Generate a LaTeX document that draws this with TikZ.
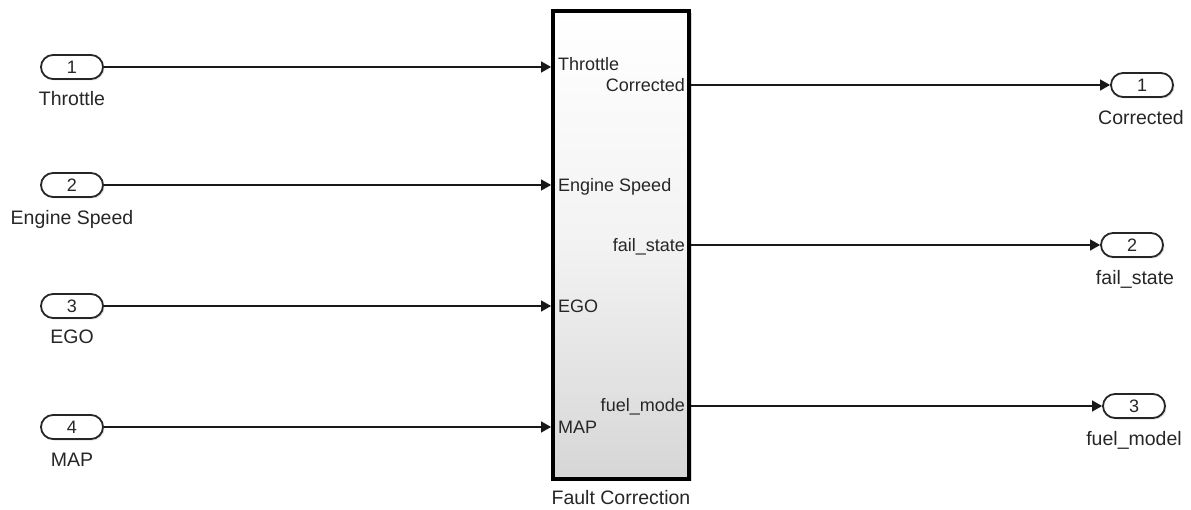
\documentclass[tikz,border=0pt]{standalone}
\usepackage{fontspec}
\setmainfont{Liberation Sans}
\usetikzlibrary{arrows.meta,shadows}
\begin{document}
\begin{tikzpicture}[x=1pt,y=-1pt,
  port/.style={draw=black!85, line width=1.8pt, rounded corners=12pt,
    minimum width=62pt, minimum height=24pt, inner sep=0pt, fill=white,
    font=\fontsize{18}{20}\selectfont, text=black!85,
    drop shadow={shadow xshift=1.5pt,shadow yshift=-1.5pt,opacity=0.25}},
  blk/.style={draw=black, line width=3.8pt, minimum width=136pt, minimum height=468pt,
    inner sep=0pt, top color=white, bottom color=black!16, middle color=black!5,
    drop shadow={shadow xshift=3pt,shadow yshift=-2pt,opacity=0.3}},
  lbl/.style={font=\fontsize{19.5}{22}\selectfont, text=black!85, inner sep=0pt},
  plbl/.style={font=\fontsize{18}{20}\selectfont, text=black!85, inner sep=0pt},
  conn/.style={line width=1.3pt, draw=black!90, -{Triangle[length=10pt,width=11pt]}}
]
\useasboundingbox (0,0) rectangle (1191,510);

% main block
\node[blk] (fc) at (621,245) {};
\node[lbl, anchor=base] (fcname) at (621,504) {Fault Correction};

% input ports
\node[port] (in1) at (72,67) {1};
\node[port] (in2) at (72,185) {2};
\node[port] (in3) at (72,306) {3};
\node[port] (in4) at (72,427) {4};
\node[lbl, anchor=base] (in1l) at (72,106) {Throttle};
\node[lbl, anchor=base] (in2l) at (72,225) {Engine Speed};
\node[lbl, anchor=base] (in3l) at (72,344) {EGO};
\node[lbl, anchor=base] (in4l) at (72,466) {MAP};

% output ports
\node[port] (out1) at (1142,85) {1};
\node[port] (out2) at (1132,245) {2};
\node[port] (out3) at (1134,406) {3};
\node[lbl, anchor=base] (out1l) at (1141,125) {Corrected};
\node[lbl, anchor=base] (out2l) at (1135,285) {fail\_state};
\node[lbl, anchor=base] (out3l) at (1134,445) {fuel\_model};

% block port labels
\node[plbl, anchor=base west] (pi1) at (558,71) {Throttle};
\node[plbl, anchor=base west] (pi2) at (558,191.5) {Engine Speed};
\node[plbl, anchor=base west] (pi3) at (558,312.5) {EGO};
\node[plbl, anchor=base west] (pi4) at (558,433.5) {MAP};
\node[plbl, anchor=base east] (po1) at (685,91.5) {Corrected};
\node[plbl, anchor=base east] (po2) at (685,251.5) {fail\_state};
\node[plbl, anchor=base east] (po3) at (685,411.5) {fuel\_mode};

% connectors
\draw[conn] (in1.east) -- (in1.east -| fc.west);
\draw[conn] (in2.east) -- (in2.east -| fc.west);
\draw[conn] (in3.east) -- (in3.east -| fc.west);
\draw[conn] (in4.east) -- (in4.east -| fc.west);
\draw[conn] (out1.west -| fc.east) -- (out1.west);
\draw[conn] (out2.west -| fc.east) -- (out2.west);
\draw[conn] (out3.west -| fc.east) -- (out3.west);
\end{tikzpicture}
\end{document}
